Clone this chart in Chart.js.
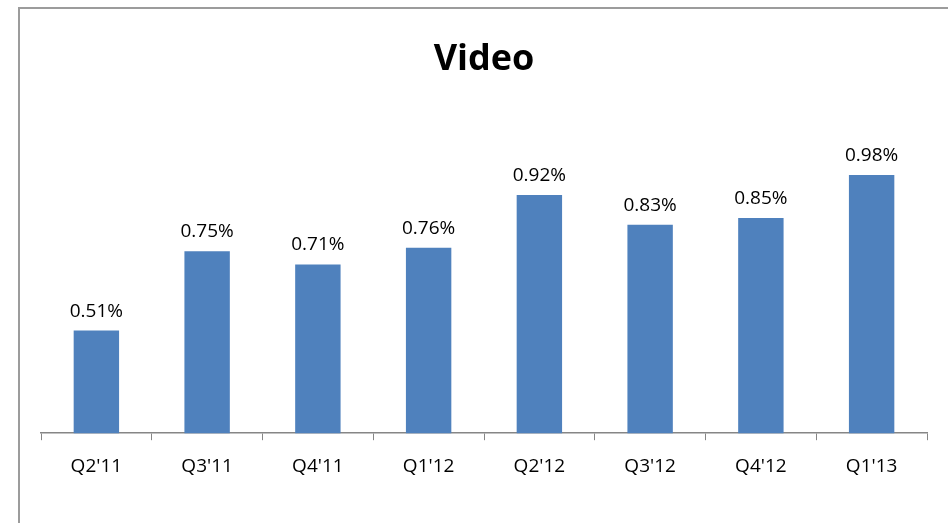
<!DOCTYPE html>
<html>
<head>
<meta charset="utf-8">
<script src="https://cdn.jsdelivr.net/npm/chart.js@4/dist/chart.umd.min.js"></script>
<style>
  html, body { margin: 0; padding: 0; background: #fff; }
  #wrap { position: relative; width: 948px; height: 523px; overflow: hidden; }
  #frame { position: absolute; left: 18px; top: 7px; width: 1000px; height: 600px;
           border: 2px solid #9c9c9c; box-sizing: border-box; }
  canvas { position: absolute; left: 0; top: 0; }
</style>
</head>
<body>
<div id="wrap">
  <div id="frame"></div>
  <canvas id="c" width="948" height="523"></canvas>
</div>
<script>
const categories = ["Q2'11", "Q3'11", "Q4'11", "Q1'12", "Q2'12", "Q3'12", "Q4'12", "Q1'13"];
const videoValues = [0.51, 0.75, 0.71, 0.76, 0.92, 0.83, 0.85, 0.98];
const chartTitle = "Video";

const FONT = "'Open Sans', 'Noto Sans', sans-serif";

const barLabels = {
  id: 'barLabels',
  afterDatasetsDraw(chart) {
    const ctx = chart.ctx;
    const meta = chart.getDatasetMeta(0);
    ctx.save();
    ctx.font = "19px " + FONT;
    ctx.fillStyle = "#000";
    ctx.textAlign = "center";
    ctx.textBaseline = "alphabetic";
    meta.data.forEach((bar, i) => {
      const v = chart.data.datasets[0].data[i];
      ctx.fillText(v.toFixed(2) + "%", bar.x, bar.y - 14);
    });
    ctx.restore();
  }
};

new Chart(document.getElementById('c'), {
  type: 'bar',
  data: {
    labels: categories,
    datasets: [{
      data: videoValues,
      backgroundColor: '#4F81BD',
      borderWidth: 0,
      barPercentage: 0.41,
      categoryPercentage: 1.0
    }]
  },
  options: {
    responsive: false,
    animation: false,
    events: [],
    layout: { padding: { left: 41, right: 21, top: 0, bottom: 30 } },
    plugins: {
      legend: { display: false },
      tooltip: { enabled: false },
      title: {
        display: true,
        text: chartTitle,
        color: '#000',
        font: { family: FONT, size: 36, weight: 'bold' },
        padding: { top: 38, bottom: 21 }
      }
    },
    scales: {
      x: {
        offset: true,
        grid: { display: true, drawOnChartArea: false, drawTicks: true, tickLength: 7, color: '#868686', offset: true },
        border: { display: true, color: '#868686', width: 1.5 },
        ticks: { color: '#000', font: { family: FONT, size: 19 }, padding: 15 }
      },
      y: {
        display: false,
        min: 0.2,
        max: 1.2
      }
    }
  },
  plugins: [barLabels]
});
</script>
</body>
</html>
